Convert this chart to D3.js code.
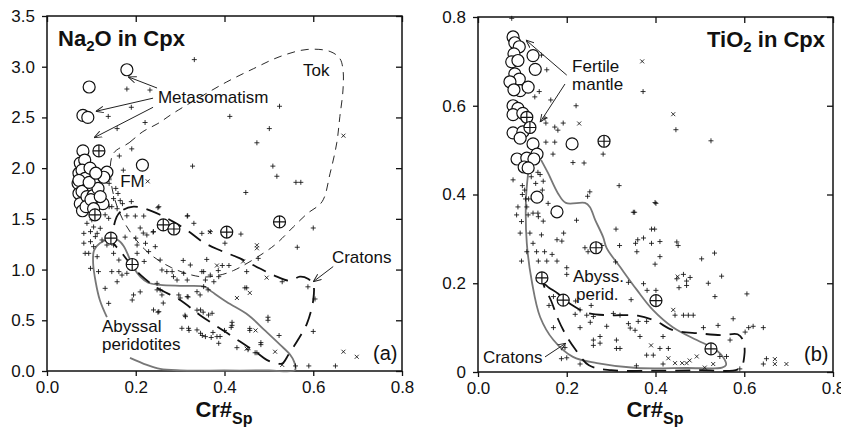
<!DOCTYPE html>
<html>
<head>
<meta charset="utf-8">
<script src="https://cdn.jsdelivr.net/npm/d3@7"></script>
<style>
body { margin: 0; background: #fff; }
text { font-family: "Liberation Sans", Arial, sans-serif; fill: #111; }
</style>
</head>
<body>
<svg id="chart" width="841" height="428"></svg>
<script>
// ---- panel (a): Na2O in Cpx vs Cr# of spinel ----
var naTicksY = [0, 0.5, 1, 1.5, 2, 2.5, 3, 3.5];
var crTicks = [0, 0.2, 0.4, 0.6, 0.8];

var naCircles = [[0.18,2.97],[0.095,2.80],[0.081,2.52],[0.092,2.50],[0.081,2.17],[0.215,2.03],
    [0.075,2.05],[0.072,1.95],[0.07,1.85],[0.072,1.75],[0.075,1.65],[0.08,1.58],[0.085,2.08],
    [0.079,1.98],[0.086,1.90],[0.072,1.88],[0.079,1.77],[0.09,1.72],[0.104,1.73],[0.088,1.62],
    [0.135,1.96],[0.097,2.0],[0.128,1.91],[0.115,1.80],[0.099,1.69],[0.126,1.65],[0.095,1.86],
    [0.110,1.95],[0.12,1.72],[0.105,1.60]];

var naOplus = [[0.117,2.17],[0.108,1.54],[0.262,1.44],[0.286,1.40],[0.405,1.37],[0.524,1.47],[0.144,1.31],[0.192,1.05]];

var naPlus = [[0.332,3.07],[0.18,2.78],[0.232,2.77],[0.524,2.61],[0.19,2.60],[0.138,2.51],[0.412,2.51],
    [0.158,2.39],[0.221,2.45],[0.501,2.39],[0.473,2.25],[0.191,2.19],[0.163,2.12],[0.328,2.02],[0.509,2.02],
    [0.518,1.92],[0.561,1.86],[0.572,1.86],[0.448,1.76],[0.172,1.98],[0.19,1.67],[0.25,1.61],[0.317,1.53],
    [0.14,1.85],[0.155,1.80],[0.16,1.75],[0.15,1.70],[0.165,1.68],[0.14,1.62],[0.17,1.65],[0.158,1.6],
    [0.131,1.54],[0.139,1.505],[0.09,1.456],[0.101,1.49],[0.105,1.42],[0.083,1.357],[0.098,1.374],[0.113,1.357],
    [0.12,1.407],[0.109,1.325],[0.098,1.275],[0.124,1.292],[0.086,1.16],[0.094,1.16],[0.113,1.127],[0.098,1.012],
    [0.116,0.98],[0.131,0.815],[0.139,0.667],[0.146,0.98],[0.162,0.98],[0.169,0.946],[0.18,0.963],[0.158,0.88],
    [0.195,0.75],[0.192,0.70],[0.203,1.242],[0.225,1.341],[0.24,1.374],[0.222,1.259],[0.203,1.16],[0.229,1.177],
    [0.244,1.226],[0.255,1.094],[0.259,0.996],[0.27,0.98],[0.282,0.98],[0.285,0.93],[0.293,0.897],[0.308,0.963],
    [0.316,0.897],[0.323,1.045],[0.353,0.98],[0.357,0.897],[0.368,0.946],[0.376,0.88],[0.387,0.93],[0.248,0.864],
    [0.255,0.799],[0.297,0.75],[0.316,0.733],[0.338,0.782],[0.353,0.832],[0.24,0.602],[0.252,0.585],[0.312,0.536],
    [0.346,0.602],[0.364,0.552],[0.372,0.569],[0.304,0.421],[0.319,0.421],[0.338,0.405],[0.346,0.372],[0.357,0.339],
    [0.383,0.339],[0.387,0.273],[0.331,1.456],[0.368,1.374],[0.349,1.357],[0.252,1.62],[0.316,1.528],[0.199,1.528],
    [0.218,1.528],[0.135,1.242],[0.15,1.16],[0.162,1.094],[0.15,1.242],[0.083,1.26],[0.105,1.226],[0.146,1.62],
    [0.18,1.53],[0.437,1.35],[0.401,1.26],[0.564,1.22],[0.476,1.11],[0.36,1.10],[0.395,1.04],[0.41,1.04],
    [0.45,0.98],[0.446,0.82],[0.53,0.88],[0.588,0.83],[0.604,0.71],[0.60,0.39],[0.523,0.35],[0.498,0.50],
    [0.498,0.53],[0.417,0.48],[0.417,0.45],[0.457,0.42],[0.457,0.40],[0.482,0.26],[0.482,0.28],[0.453,0.21],
    [0.469,0.18],[0.428,0.23],[0.374,0.38],[0.39,0.34],[0.56,0.05],[0.59,0.05],[0.65,0.05],[0.60,1.41],
    [0.307,1.09],[0.349,0.98],[0.386,0.99],[0.21,1.41],[0.217,1.36],[0.2,1.31],[0.176,1.32],[0.239,1.37],
    [0.219,1.08],[0.21,0.78],[0.248,0.80],[0.259,0.75],[0.262,0.67],[0.30,0.72],[0.318,0.73],[0.345,0.75],
    [0.363,0.80],[0.45,0.82],[0.25,0.58],[0.311,0.55],[0.338,0.60],[0.352,0.58],[0.32,0.40],[0.40,0.40],
    [0.415,0.43],[0.473,0.18],[0.35,0.35],[0.37,0.33]];

var naCross = [[0.227,1.87],[0.668,2.32],[0.473,1.21],[0.473,1.24],[0.442,1.08],[0.495,0.92],[0.457,0.77],
    [0.428,0.72],[0.45,0.22],[0.514,0.19],[0.53,0.06],[0.668,0.19],[0.698,0.14],[0.367,1.37],[0.383,1.04],[0.47,0.40]];

var naAbyssal = [[0.135,0.53],[0.119,0.70],[0.110,0.87],[0.104,1.06],[0.106,1.19],[0.119,1.26],[0.142,1.30],
    [0.160,1.29],[0.173,1.23],[0.183,1.14],[0.194,1.03],[0.210,0.93],[0.228,0.87],[0.255,0.85],[0.307,0.84],
    [0.356,0.83],[0.372,0.78],[0.405,0.68],[0.454,0.55],[0.491,0.40],[0.525,0.26],[0.548,0.16],[0.557,0.09],
    [0.559,0.01],[0.50,0.005],[0.40,0.005],[0.30,0.006],[0.255,0.02],[0.225,0.06],[0.187,0.13]];

var naCratons = [[0.157,1.52],[0.172,1.59],[0.195,1.62],[0.221,1.60],[0.255,1.54],[0.285,1.47],[0.315,1.39],
    [0.352,1.27],[0.39,1.19],[0.435,1.11],[0.48,1.01],[0.518,0.93],[0.548,0.89],[0.57,0.93],[0.588,0.91],
    [0.60,0.85],[0.60,0.70],[0.586,0.47],[0.566,0.31],[0.544,0.16],[0.532,0.08],[0.521,0.07],[0.495,0.11],
    [0.473,0.18],[0.435,0.29],[0.39,0.42],[0.345,0.55],[0.30,0.70],[0.248,0.82],[0.21,0.95],[0.187,1.06],
    [0.164,1.19],[0.149,1.27]];

var naTok = [[0.149,2.14],[0.185,2.25],[0.216,2.36],[0.25,2.44],[0.284,2.54],[0.345,2.70],[0.405,2.85],
    [0.465,2.98],[0.525,3.10],[0.586,3.17],[0.638,3.15],[0.66,3.08],[0.667,2.97],[0.667,2.77],[0.66,2.51],
    [0.653,2.25],[0.638,1.95],[0.62,1.67],[0.586,1.55],[0.555,1.42],[0.518,1.26],[0.487,1.16],[0.42,0.99],
    [0.383,0.94],[0.345,0.93],[0.28,1.02],[0.22,1.2],[0.17,1.5],[0.145,1.85]];

var naArrows = [[[0.248,2.79],[0.183,2.90]],[[0.239,2.69],[0.110,2.56]],[[0.239,2.60],[0.106,2.30]],[[0.645,1.03],[0.60,0.88]]];
var naLabels = [["Metasomatism",0.25,2.64],["FM",0.165,1.81],["Tok",0.577,2.91],["Cratons",0.642,1.065],
    ["Abyssal",0.124,0.385],["peridotites",0.124,0.205]];

// ---- panel (b): TiO2 in Cpx vs Cr# of spinel ----
var tiTicksY = [0, 0.2, 0.4, 0.6, 0.8];

var tiCircles = [[0.079,0.755],[0.083,0.742],[0.093,0.733],[0.124,0.713],[0.081,0.717],[0.076,0.699],[0.09,0.702],
    [0.129,0.682],[0.083,0.672],[0.093,0.66],[0.072,0.654],[0.095,0.634],[0.113,0.642],[0.081,0.636],[0.079,0.60],
    [0.09,0.594],[0.079,0.58],[0.101,0.583],[0.079,0.539],[0.101,0.541],[0.095,0.527],[0.124,0.514],[0.212,0.514],
    [0.088,0.48],[0.11,0.482],[0.133,0.491],[0.126,0.48],[0.104,0.462],[0.113,0.46],[0.133,0.394],[0.178,0.361]];

var tiOplus = [[0.110,0.574],[0.117,0.551],[0.284,0.52],[0.266,0.28],[0.144,0.212],[0.192,0.162],[0.401,0.161],[0.525,0.052]];

var tiPlus = [[0.076,0.797],[0.155,0.681],[0.143,0.714],[0.138,0.632],[0.128,0.62],[0.164,0.613],[0.221,0.60],
    [0.151,0.572],[0.173,0.552],[0.192,0.561],[0.18,0.545],[0.153,0.561],[0.153,0.518],[0.173,0.518],[0.169,0.491],
    [0.214,0.472],[0.239,0.471],[0.282,0.491],[0.318,0.42],[0.252,0.406],[0.247,0.396],[0.353,0.36],[0.401,0.38],
    [0.372,0.632],[0.446,0.546],[0.525,0.521],[0.079,0.433],[0.10,0.42],[0.105,0.41],[0.12,0.44],[0.135,0.45],
    [0.14,0.445],[0.147,0.43],[0.13,0.425],[0.145,0.41],[0.09,0.372],[0.11,0.372],[0.158,0.38],[0.169,0.358],
    [0.124,0.358],[0.135,0.358],[0.10,0.40],[0.107,0.39],[0.114,0.39],[0.087,0.354],[0.098,0.339],[0.095,0.313],
    [0.117,0.313],[0.113,0.354],[0.136,0.35],[0.147,0.34],[0.143,0.309],[0.124,0.29],[0.11,0.271],[0.132,0.271],
    [0.15,0.271],[0.098,0.25],[0.136,0.25],[0.155,0.25],[0.178,0.298],[0.189,0.295],[0.193,0.313],[0.167,0.265],
    [0.178,0.25],[0.2,0.235],[0.2,0.22],[0.222,0.342],[0.241,0.28],[0.248,0.271],[0.279,0.285],[0.311,0.322],
    [0.319,0.285],[0.35,0.36],[0.355,0.29],[0.358,0.271],[0.36,0.298],[0.373,0.302],[0.391,0.322],[0.398,0.322],
    [0.399,0.382],[0.391,0.29],[0.41,0.294],[0.41,0.26],[0.399,0.243],[0.448,0.293],[0.451,0.285],[0.31,0.248],
    [0.339,0.202],[0.373,0.199],[0.345,0.163],[0.381,0.184],[0.401,0.184],[0.504,0.255],[0.533,0.268],[0.549,0.216],
    [0.448,0.21],[0.463,0.22],[0.47,0.205],[0.478,0.213],[0.453,0.19],[0.47,0.195],[0.519,0.2],[0.534,0.17],
    [0.606,0.176],[0.305,0.132],[0.32,0.128],[0.26,0.125],[0.253,0.112],[0.23,0.1],[0.275,0.08],[0.26,0.072],
    [0.26,0.06],[0.275,0.065],[0.29,0.103],[0.312,0.072],[0.312,0.053],[0.32,0.053],[0.339,0.109],[0.343,0.099],
    [0.361,0.114],[0.38,0.114],[0.354,0.094],[0.365,0.08],[0.38,0.038],[0.395,0.038],[0.41,0.053],[0.417,0.08],
    [0.429,0.053],[0.444,0.128],[0.463,0.128],[0.474,0.128],[0.485,0.128],[0.545,0.035],[0.56,0.035],[0.508,0.1],
    [0.541,0.105],[0.575,0.12],[0.568,0.072],[0.602,0.09],[0.61,0.1],[0.62,0.103],[0.643,0.1],[0.643,0.018],
    [0.65,0.03],[0.59,0.007],[0.196,0.055],[0.2,0.032],[0.188,0.03],[0.23,0.018],[0.17,0.1],[0.219,0.13],
    [0.245,0.128],[0.357,0.014],[0.417,0.018],[0.16,0.15],[0.17,0.17],[0.22,0.16],[0.23,0.14],[0.255,0.15]];

var tiCross = [[0.37,0.70],[0.44,0.581],[0.228,0.56],[0.44,0.14],[0.429,0.031],[0.444,0.02],[0.46,0.02],[0.47,0.02],
    [0.477,0.026],[0.493,0.035],[0.511,0.01],[0.53,0.018],[0.669,0.029],[0.669,0.018],[0.695,0.018],[0.45,0.215],[0.39,0.06]];

var tiAbyssal = [[0.116,0.47],[0.113,0.448],[0.108,0.387],[0.11,0.29],[0.122,0.20],[0.14,0.124],[0.17,0.072],
    [0.214,0.034],[0.268,0.02],[0.358,0.009],[0.47,0.009],[0.55,0.01],[0.559,0.016],[0.552,0.034],[0.53,0.054],
    [0.493,0.072],[0.439,0.101],[0.394,0.14],[0.358,0.185],[0.32,0.237],[0.29,0.279],[0.282,0.304],[0.264,0.343],
    [0.252,0.372],[0.241,0.381],[0.198,0.381],[0.18,0.403],[0.158,0.448],[0.142,0.478]];

var tiCratons = [[0.147,0.2],[0.16,0.19],[0.18,0.177],[0.21,0.152],[0.25,0.132],[0.30,0.128],[0.36,0.127],
    [0.40,0.115],[0.44,0.094],[0.50,0.087],[0.55,0.083],[0.585,0.085],[0.598,0.07],[0.60,0.035],[0.59,0.008],
    [0.5,0.004],[0.4,0.003],[0.3,0.004],[0.25,0.015],[0.22,0.05],[0.2,0.08],[0.18,0.12],[0.165,0.16]];

var tiArrows = [[[0.20,0.669],[0.108,0.748]],[[0.196,0.649],[0.14,0.563]],[[0.151,0.034],[0.198,0.065]]];
var tiLabels = [["Fertile",0.212,0.676],["mantle",0.212,0.635],["Abyss.",0.214,0.203],["perid.",0.221,0.162],["Cratons",0.011,0.02]];

var svg = d3.select("#chart");

var defs = svg.append("defs");
defs.append("marker")
    .attr("id", "arrowHead")
    .attr("viewBox", "0 0 10 10")
    .attr("refX", 10)
    .attr("refY", 5)
    .attr("markerWidth", 8)
    .attr("markerHeight", 8)
    .attr("markerUnits", "userSpaceOnUse")
    .attr("orient", "auto")
    .append("path")
    .attr("d", "M0,1 L10,5 L0,9")
    .attr("fill", "none")
    .attr("stroke", "#222")
    .attr("stroke-width", 1.2);

function drawPanel(p) {
    var g = svg.append("g");
    var x = d3.scaleLinear().domain([0, 0.8]).range([p.left, p.left + 355]);
    var y = d3.scaleLinear().domain([0, p.yMax]).range([p.top + 355, p.top]);

    // frame and axes
    g.append("rect")
        .attr("x", p.left).attr("y", p.top)
        .attr("width", 355).attr("height", 355)
        .attr("fill", "none").attr("stroke", "#111").attr("stroke-width", 1.5);

    g.append("g").attr("transform", "translate(0," + (p.top + 355) + ")")
        .call(d3.axisBottom(x).tickValues(crTicks).tickSize(5).tickPadding(5).tickFormat(d3.format(".1f")));
    g.append("g").attr("transform", "translate(0," + p.top + ")")
        .call(d3.axisTop(x).tickValues(crTicks).tickSize(-6).tickFormat(""));
    g.append("g").attr("transform", "translate(" + p.left + ",0)")
        .call(d3.axisLeft(y).tickValues(p.yTicks).tickSize(5).tickPadding(7).tickFormat(p.fmt));
    g.append("g").attr("transform", "translate(" + (p.left + 355) + ",0)")
        .call(d3.axisRight(y).tickValues(p.yTicks).tickSize(-6).tickFormat(""));
    g.selectAll(".domain").remove();
    g.selectAll(".tick line").attr("stroke", "#111").attr("stroke-width", 1.3);
    g.selectAll(".tick text").attr("font-size", 17).attr("fill", "#111")
        .attr("font-family", "Liberation Sans, Arial, sans-serif");

    var line = d3.line().x(d => x(d[0])).y(d => y(d[1])).curve(d3.curveCatmullRom.alpha(0.5));
    var closed = d3.line().x(d => x(d[0])).y(d => y(d[1])).curve(d3.curveCatmullRomClosed.alpha(0.5));

    if (p.tok) {
        g.append("path").attr("d", closed(p.tok))
            .attr("fill", "none").attr("stroke", "#111").attr("stroke-width", 0.9)
            .attr("stroke-dasharray", "8,6");
    }
    g.append("path").attr("d", line(p.abyssal))
        .attr("fill", "none").attr("stroke", "#777").attr("stroke-width", 1.8);
    g.append("path").attr("d", closed(p.cratons))
        .attr("fill", "none").attr("stroke", "#111").attr("stroke-width", 1.8)
        .attr("stroke-dasharray", "15,9");

    g.selectAll(".plus").data(p.plus).enter().append("path")
        .attr("d", d => "M" + (x(d[0]) - 2.5) + "," + y(d[1]) + "h5M" + x(d[0]) + "," + (y(d[1]) - 2.5) + "v5")
        .attr("stroke", "#111").attr("stroke-width", 0.85);
    g.selectAll(".cross").data(p.cross).enter().append("path")
        .attr("d", d => "M" + (x(d[0]) - 2) + "," + (y(d[1]) - 2) + "l4,4M" + (x(d[0]) - 2) + "," + (y(d[1]) + 2) + "l4,-4")
        .attr("stroke", "#111").attr("stroke-width", 0.85);

    g.selectAll(".fm").data(p.circles).enter().append("circle")
        .attr("cx", d => x(d[0])).attr("cy", d => y(d[1])).attr("r", 6)
        .attr("fill", "#fff").attr("stroke", "#111").attr("stroke-width", 1.2);

    var op = g.selectAll(".oplus").data(p.oplus).enter().append("g")
        .attr("transform", d => "translate(" + x(d[0]) + "," + y(d[1]) + ")");
    op.append("circle").attr("r", 6).attr("fill", "#fff").attr("stroke", "#111").attr("stroke-width", 1.2);
    op.append("path").attr("d", "M-6,0H6M0,-6V6").attr("stroke", "#111").attr("stroke-width", 1.2);

    g.selectAll(".arrow").data(p.arrows).enter().append("line")
        .attr("x1", d => x(d[0][0])).attr("y1", d => y(d[0][1]))
        .attr("x2", d => x(d[1][0])).attr("y2", d => y(d[1][1]))
        .attr("stroke", "#222").attr("stroke-width", 1)
        .attr("marker-end", "url(#arrowHead)");

    g.selectAll(".lab").data(p.labels).enter().append("text")
        .attr("x", d => x(d[1])).attr("y", d => y(d[2]))
        .attr("font-size", 17)
        .text(d => d[0]);

    g.append("text")
        .attr("x", p.left + 326).attr("y", p.top + 344)
        .attr("font-size", 20)
        .text(p.tag);

    // title with subscript
    var t = g.append("text")
        .attr("x", p.titleX).attr("y", p.top + 30)
        .attr("font-size", 22).attr("font-weight", "bold")
        .attr("text-anchor", p.titleAnchor);
    t.append("tspan").text(p.title[0]);
    t.append("tspan").attr("font-size", 15).attr("dy", 5).text("2");
    t.append("tspan").attr("dy", -5).text(p.title[1]);

    // x axis title Cr#Sp
    var xt = g.append("text")
        .attr("x", p.left + 177).attr("y", 417)
        .attr("font-size", 22).attr("font-weight", "bold")
        .attr("text-anchor", "middle");
    xt.append("tspan").text("Cr#");
    xt.append("tspan").attr("font-size", 16).attr("dy", 7).text("Sp");
}

drawPanel({
    left: 47, top: 16, yMax: 3.5, yTicks: naTicksY, fmt: d3.format(".1f"),
    plus: naPlus, cross: naCross, circles: naCircles, oplus: naOplus,
    abyssal: naAbyssal, cratons: naCratons, tok: naTok,
    arrows: naArrows, labels: naLabels, tag: "(a)",
    title: ["Na", "O in Cpx"], titleX: 58, titleAnchor: "start"
});

drawPanel({
    left: 478, top: 17, yMax: 0.8, yTicks: tiTicksY, fmt: d => d === 0 ? "0" : d3.format(".1f")(d),
    plus: tiPlus, cross: tiCross, circles: tiCircles, oplus: tiOplus,
    abyssal: tiAbyssal, cratons: tiCratons, tok: null,
    arrows: tiArrows, labels: tiLabels, tag: "(b)",
    title: ["TiO", " in Cpx"], titleX: 825, titleAnchor: "end"
});
</script>
</body>
</html>
